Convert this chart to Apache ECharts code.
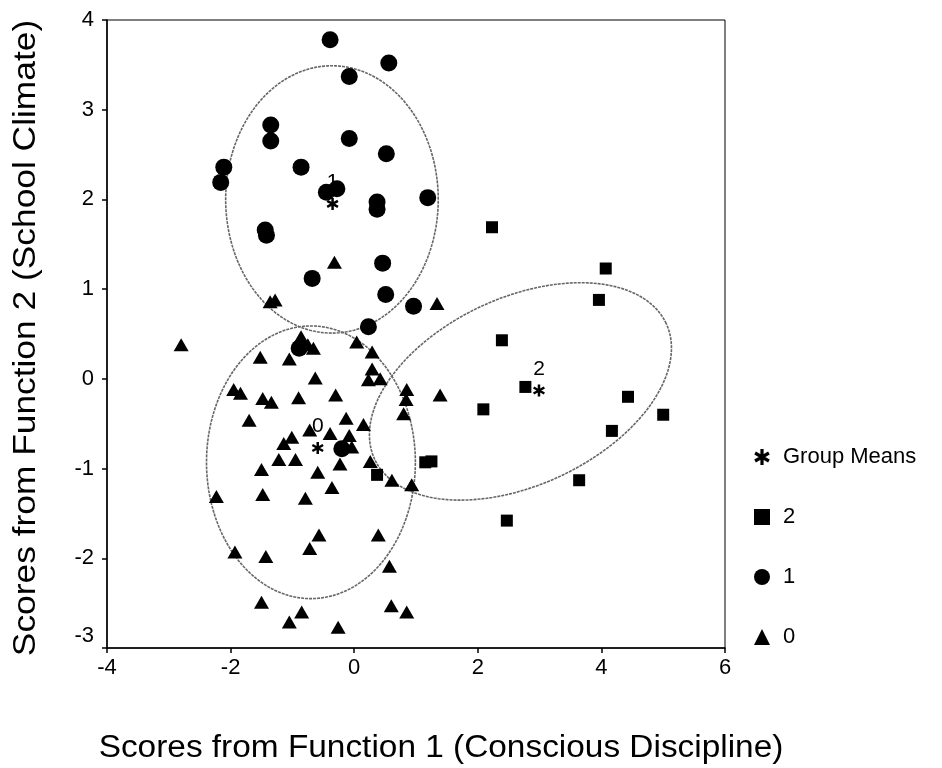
<!DOCTYPE html>
<html>
<head>
<meta charset="utf-8">
<script src="https://cdn.jsdelivr.net/npm/echarts@6/dist/echarts.min.js"></script>
<style>html,body{margin:0;padding:0;background:#fff;}#c{width:942px;height:768px;}</style>
</head>
<body>
<div id="c"></div>
<script>
// ---- data ----
const xTicks = [-4, -2, 0, 2, 4, 6];
const yTicks = [-3, -2, -1, 0, 1, 2, 3, 4];
const xTitle = 'Scores from Function 1 (Conscious Discipline)';
const yTitle = 'Scores from Function 2 (School Climate)';

const group0Points = [
  [-2.80,0.38],[-0.86,0.47],[-0.75,0.38],[-0.66,0.34],[-1.52,0.24],[-1.05,0.22],[0.04,0.41],[0.29,0.30],
  [0.29,0.11],[0.23,-0.01],[0.42,0.00],[-0.63,0.01],[-1.95,-0.12],[-1.84,-0.16],[-1.48,-0.22],[-1.34,-0.26],
  [-0.90,-0.21],[-0.30,-0.18],[0.85,-0.12],[0.84,-0.23],[0.80,-0.39],[1.39,-0.18],[-1.70,-0.46],[-0.13,-0.44],
  [0.15,-0.51],[-0.72,-0.57],[-0.39,-0.61],[-0.08,-0.63],[-1.01,-0.65],[-1.14,-0.72],[-0.04,-0.76],[-1.22,-0.90],
  [-0.95,-0.90],[-0.23,-0.95],[0.26,-0.92],[-1.50,-1.01],[-0.59,-1.04],[-0.36,-1.21],[0.61,-1.13],[0.93,-1.18],
  [-2.23,-1.31],[-1.48,-1.29],[-0.79,-1.33],[-0.57,-1.74],[0.39,-1.74],[-0.72,-1.89],[-1.93,-1.93],[-1.43,-1.98],
  [0.57,-2.09],[-1.50,-2.49],[-0.85,-2.60],[0.60,-2.53],[0.85,-2.60],[-1.05,-2.71],[-0.26,-2.77],[-0.32,1.30],
  [-1.28,0.88],[-1.36,0.86],[1.34,0.84]
];
const group1Points = [
  [-0.39,3.78],[0.56,3.52],[-0.08,3.37],[-1.35,2.83],[-1.35,2.65],[-0.08,2.68],[0.52,2.51],[-2.11,2.36],
  [-2.16,2.19],[-0.86,2.36],[-0.45,2.08],[-0.28,2.12],[0.37,1.97],[0.37,1.89],[1.19,2.02],[-1.44,1.66],
  [-1.42,1.60],[0.46,1.29],[-0.68,1.12],[0.51,0.94],[0.96,0.81],[0.23,0.58],[-0.89,0.34],[-0.20,-0.78]
];
const group2Points = [
  [2.23,1.69],[4.07,1.23],[3.96,0.88],[2.39,0.43],[2.77,-0.09],[4.43,-0.20],[5.00,-0.40],[2.09,-0.34],
  [4.17,-0.58],[3.64,-1.13],[2.47,-1.58],[1.15,-0.93],[1.25,-0.92],[0.37,-1.07]
];
const groupMeanPoints = [[2.99,-0.13],[-0.35,1.95],[-0.59,-0.77]];
const groupMeanLabels = ['2','1','0'];
// ellipses: centre x, centre y, semi-axis vector u (x,y), conjugate semi-axis vector v (x,y), data units
const ellipseParams = [
  [-0.36, 2.00, 1.72, 0.00, 0.00, 1.49],
  [-0.70, -0.93, 1.69, 0.00, 0.00, 1.52],
  [2.69, -0.14, 2.359, 0.756, -0.638, 0.947]
];
const legendNames = ['Group Means','2','1','0'];

// ---- chart ----
const FONT = '"Liberation Sans", Arial, sans-serif';
const starPath = 'path://M-1,-5L1,-5L1,5L-1,5Z M3.83,-3.37L4.83,-1.63L-3.83,3.37L-4.83,1.63Z M4.83,1.63L3.83,3.37L-4.83,-1.63L-3.83,-3.37Z';

const chart = echarts.init(document.getElementById('c'), null, {renderer:'canvas'});
const option = {
  animation: false,
  backgroundColor: '#fff',
  grid: {left: 107, right: 217, top: 20, bottom: 120, show: true, borderColor: '#000', borderWidth: 1},
  xAxis: {
    type: 'value', min: xTicks[0], max: xTicks[xTicks.length-1], interval: 2,
    axisLine: {onZero: false, lineStyle: {color: '#000', width: 1.5}},
    axisTick: {inside: false, length: 5, lineStyle: {color: '#000', width: 1.5}},
    axisLabel: {fontFamily: FONT, fontSize: 22, color: '#000', margin: 9},
    splitLine: {show: false}
  },
  yAxis: {
    type: 'value', min: yTicks[0], max: yTicks[yTicks.length-1], interval: 1,
    axisLine: {onZero: false, lineStyle: {color: '#000', width: 1.5}},
    axisTick: {inside: false, length: 5, lineStyle: {color: '#000', width: 1.5}},
    axisLabel: {
      fontFamily: FONT, fontSize: 22, color: '#000', margin: 13,
      formatter: function (v) { return v === yTicks[0] ? '{low|' + v + '}' : String(v); },
      rich: {low: {fontFamily: FONT, fontSize: 22, color: '#000', padding: [0, 0, 24, 0]}}
    },
    splitLine: {show: false}
  },
  legend: {
    orient: 'vertical', left: 749, top: 441, itemGap: 38, itemWidth: 16, itemHeight: 16,
    data: legendNames,
    textStyle: {fontFamily: FONT, fontSize: 22, color: '#000', padding: [0,0,0,8]}
  },
  graphic: [
    {
      type: 'text', x: 441, y: 748, scaleX: 1.077, scaleY: 1,
      style: {text: xTitle, font: '31px "Liberation Sans", Arial, sans-serif', fill: '#000', textAlign: 'center', textVerticalAlign: 'middle'}
    },
    {
      type: 'text', x: 26, y: 338, rotation: Math.PI / 2, scaleX: 1.14, scaleY: 1,
      style: {text: yTitle, font: '31px "Liberation Sans", Arial, sans-serif', fill: '#000', textAlign: 'center', textVerticalAlign: 'middle'}
    }
  ],
  series: [
    {
      type: 'custom', name: 'ellipses', coordinateSystem: 'cartesian2d', silent: true, z: 1,
      data: ellipseParams,
      encode: {x: 0, y: 1},
      renderItem: function (params, api) {
        const cx = api.value(0), cy = api.value(1), ux = api.value(2), uy = api.value(3), vx = api.value(4), vy = api.value(5);
        const pts = [];
        const N = 180;
        for (let i = 0; i <= N; i++) {
          const t = 2 * Math.PI * i / N;
          pts.push(api.coord([cx + ux * Math.cos(t) + vx * Math.sin(t), cy + uy * Math.cos(t) + vy * Math.sin(t)]));
        }
        return {type: 'polyline', shape: {points: pts}, style: {stroke: '#666', lineWidth: 1.6, fill: null, lineDash: [3, 1]}};
      }
    },
    {
      type: 'scatter', name: '0', data: group0Points, symbol: 'triangle', symbolSize: [15, 13],
      itemStyle: {color: '#000', opacity: 1}, z: 3
    },
    {
      type: 'scatter', name: '1', data: group1Points, symbol: 'circle', symbolSize: 17,
      itemStyle: {color: '#000', opacity: 1}, z: 3
    },
    {
      type: 'scatter', name: '2', data: group2Points, symbol: 'rect', symbolSize: 12,
      itemStyle: {color: '#000', opacity: 1}, z: 3
    },
    {
      type: 'scatter', name: 'Group Means',
      data: groupMeanPoints.map((p, i) => ({value: p, label: {formatter: groupMeanLabels[i]}})),
      symbol: starPath, symbolSize: 12,
      itemStyle: {color: '#000', opacity: 1}, z: 4,
      label: {show: true, position: 'top', distance: 5, fontFamily: FONT, fontSize: 21, color: '#000'}
    }
  ]
};
chart.setOption(option);
</script>
</body>
</html>
